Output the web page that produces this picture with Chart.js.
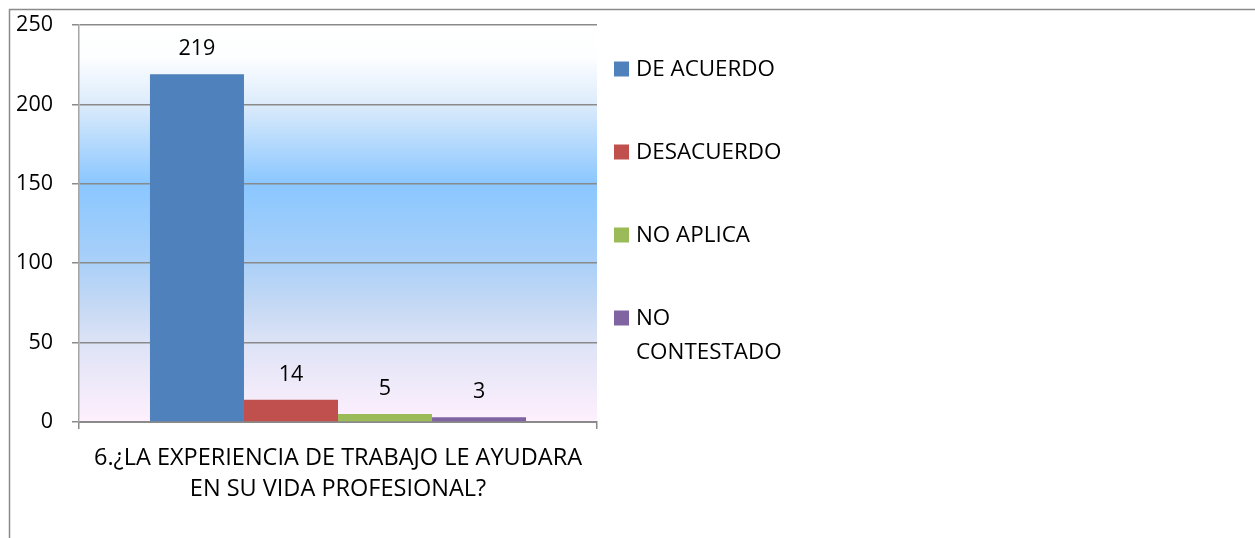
<!DOCTYPE html>
<html>
<head>
<meta charset="utf-8">
<script src="https://cdn.jsdelivr.net/npm/chart.js@4.4.1/dist/chart.umd.min.js"></script>
<style>
  html, body { margin: 0; padding: 0; background: #fff; }
  #wrap { width: 1255px; height: 538px; }
</style>
</head>
<body>
<div id="wrap"><canvas id="chart" width="1255" height="538"></canvas></div>
<script>
const categories = [["6.¿LA EXPERIENCIA DE TRABAJO LE AYUDARA", "EN SU VIDA PROFESIONAL?"]];
const seriesNames = ["DE ACUERDO", "DESACUERDO", "NO APLICA", ["NO", "CONTESTADO"]];
const seriesValues = [[219], [14], [5], [3]];
const seriesColors = ["#4F81BD", "#C0504D", "#9BBB59", "#8064A2"];
const yTicks = [0, 50, 100, 150, 200, 250];

const FONT = "'Open Sans', 'Liberation Sans', sans-serif";
const AXIS_GRAY = "#8a8a8a";

// soft blue band behind the bars
const plotBackground = {
  id: "plotBackground",
  beforeDraw(chart) {
    const { ctx, chartArea: a } = chart;
    const g = ctx.createLinearGradient(0, a.top, 0, a.bottom);
    g.addColorStop(0, "#ffffff");
    g.addColorStop(0.08, "#fdfeff");
    g.addColorStop(0.2, "#dcebfb");
    g.addColorStop(0.4, "#8ac7ff");
    g.addColorStop(0.58, "#a6cff9");
    g.addColorStop(0.7, "#c3d8f4");
    g.addColorStop(0.8, "#dde3f6");
    g.addColorStop(1, "#fff0fd");
    ctx.save();
    ctx.fillStyle = g;
    ctx.fillRect(a.left, a.top, a.right - a.left, a.bottom - a.top);
    ctx.restore();
  },
};

// frame lines along the top and left of the figure
const frame = {
  id: "frame",
  beforeDraw(chart) {
    const { ctx, width, height } = chart;
    ctx.save();
    ctx.strokeStyle = AXIS_GRAY;
    ctx.lineWidth = 1.5;
    ctx.beginPath();
    ctx.moveTo(9.5, height);
    ctx.lineTo(9.5, 9.5);
    ctx.lineTo(width, 9.5);
    ctx.stroke();
    ctx.restore();
  },
};

// value printed above each bar
const valueLabels = {
  id: "valueLabels",
  afterDatasetsDraw(chart) {
    const { ctx } = chart;
    ctx.save();
    ctx.font = `21.5px ${FONT}`;
    ctx.fillStyle = "#000";
    ctx.textAlign = "center";
    ctx.textBaseline = "middle";
    chart.data.datasets.forEach((ds, i) => {
      chart.getDatasetMeta(i).data.forEach((bar, j) => {
        ctx.fillText(String(ds.data[j]), bar.x, bar.y - 25);
      });
    });
    ctx.restore();
  },
};

// legend column to the right of the plot, names may wrap onto two lines
const sideLegend = {
  id: "sideLegend",
  afterDraw(chart) {
    const { ctx } = chart;
    const x = 614, top = 69, step = 83, box = 15, lineH = 34;
    ctx.save();
    ctx.font = `22.4px ${FONT}`;
    ctx.textAlign = "left";
    ctx.textBaseline = "middle";
    chart.data.datasets.forEach((ds, i) => {
      const y = top + i * step;
      ctx.fillStyle = ds.backgroundColor;
      ctx.fillRect(x, y - box / 2, box, box);
      ctx.fillStyle = "#000";
      const lines = Array.isArray(ds.label) ? ds.label : [ds.label];
      lines.forEach((line, k) => ctx.fillText(line, x + 22, y + 1 + k * lineH));
    });
    ctx.restore();
  },
};

new Chart(document.getElementById("chart"), {
  type: "bar",
  data: {
    labels: categories,
    datasets: seriesNames.map((name, i) => ({
      label: name,
      data: seriesValues[i],
      backgroundColor: seriesColors[i],
      borderWidth: 0,
      categoryPercentage: 0.726,
      barPercentage: 1,
    })),
  },
  options: {
    responsive: false,
    animation: false,
    layout: { padding: { top: 25, right: 658, left: 0, bottom: 0 } },
    plugins: {
      legend: { display: false },
      tooltip: { enabled: false },
    },
    scales: {
      x: {
        afterFit: (scale) => { scale.height = 116; },
        grid: { display: true, drawOnChartArea: false, drawTicks: true, tickLength: 7, color: AXIS_GRAY, lineWidth: 1.5, offset: true },
        border: { display: true, color: AXIS_GRAY, width: 2 },
        ticks: { color: "#000", padding: 13.5, maxRotation: 0, font: { family: FONT, size: 23.5, lineHeight: 1.32 } },
      },
      y: {
        min: 0,
        max: 250,
        afterFit: (scale) => {
          scale.width = 79;
          // label padding should not push the plot top down
          scale.paddingTop = 0;
          scale.paddingBottom = 0;
        },
        afterBuildTicks: (scale) => { scale.ticks = yTicks.map((v) => ({ value: v })); },
        grid: { color: AXIS_GRAY, lineWidth: 1.5, tickLength: 7 },
        border: { display: true, color: "#a6a6a6", width: 1.5 },
        ticks: { color: "#000", padding: 19, font: { family: FONT, size: 21.5 } },
      },
    },
  },
  plugins: [frame, plotBackground, valueLabels, sideLegend],
});
</script>
</body>
</html>
